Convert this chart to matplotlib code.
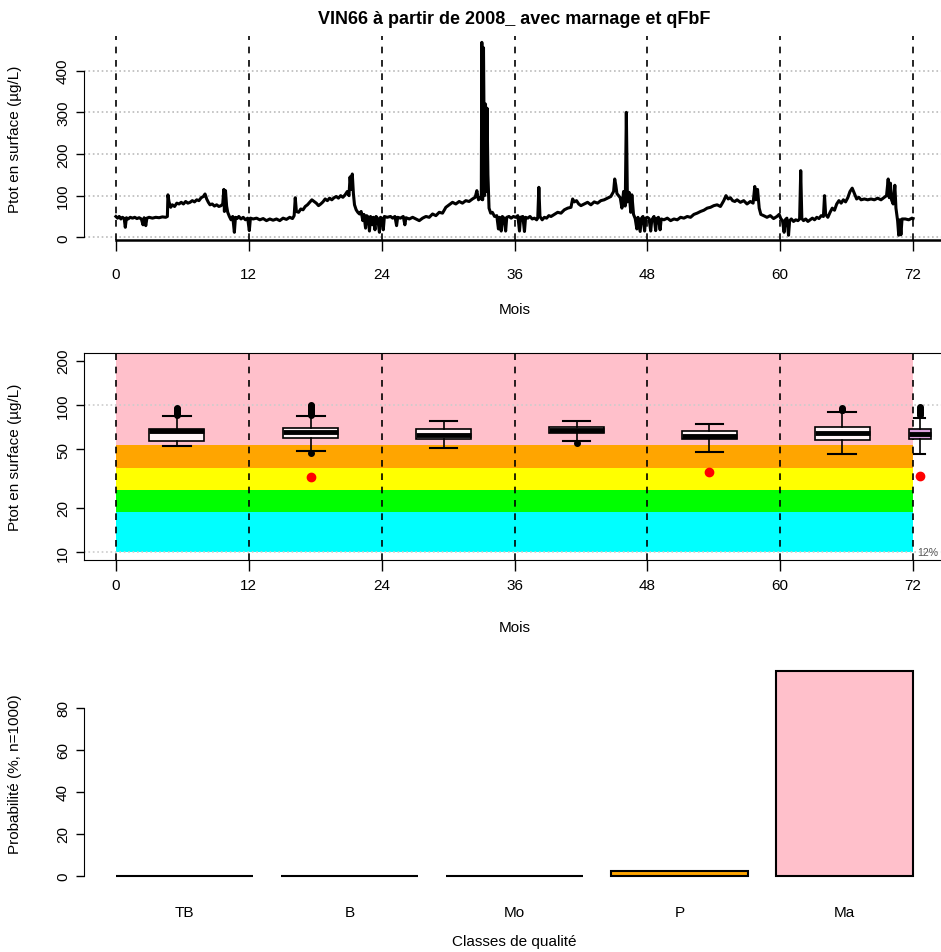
import numpy as np
import matplotlib.pyplot as plt
from matplotlib.ticker import NullLocator

plt.rcParams['font.family'] = ['Liberation Sans', 'DejaVu Sans']

# ---- panel 1 : series (mois, Ptot en surface)
mois = [0.0, 0.15, 0.3, 0.45, 0.6, 0.75, 0.85, 0.95, 1.1, 1.3, 1.5, 1.7, 1.9, 2.1, 2.3, 2.45, 2.55, 2.7, 2.8, 3.0,
        3.3, 3.6, 3.9, 4.2, 4.5, 4.65, 4.7, 4.8, 4.95, 5.1, 5.3, 5.5, 5.7, 5.9, 6.1, 6.3, 6.5, 6.7, 6.9, 7.1,
        7.3, 7.5, 7.7, 7.9, 8.05, 8.2, 8.35, 8.5, 8.7, 8.9, 9.1, 9.3, 9.5, 9.65, 9.75, 9.8, 9.9, 10.0, 10.1, 10.25,
        10.4, 10.55, 10.7, 10.8, 10.95, 11.1, 11.3, 11.5, 11.7, 11.9, 12.05, 12.15,
        12.4, 12.7, 13.0, 13.3, 13.6, 13.9, 14.2, 14.5, 14.8, 15.1, 15.4, 15.7, 15.95, 16.1, 16.2, 16.3, 16.5, 16.7,
        16.9, 17.1, 17.3, 17.5, 17.7, 17.9, 18.1, 18.3, 18.5, 18.7, 18.9, 19.1, 19.3, 19.5, 19.7, 19.9, 20.1, 20.3,
        20.5, 20.7, 20.9, 21.05, 21.15, 21.25, 21.35, 21.45, 21.55, 21.7, 21.85, 22.0, 22.15, 22.3, 22.4, 22.55,
        22.65, 22.8, 22.9, 23.0, 23.15, 23.25, 23.4, 23.5, 23.65, 23.8, 23.9, 24.05, 24.15, 24.25,
        24.5, 24.8, 25.0, 25.2, 25.35, 25.45, 25.7, 25.95, 26.1, 26.2, 26.5, 26.8, 27.1, 27.4, 27.7, 28.0, 28.3,
        28.6, 28.9, 29.2, 29.5, 29.8, 30.1, 30.4, 30.7, 31.0, 31.3, 31.6, 31.9, 32.2, 32.45, 32.6, 32.75, 32.9,
        33.0, 33.05, 33.12, 33.2, 33.3, 33.38, 33.45, 33.52, 33.6, 33.7, 33.85, 34.0, 34.2, 34.4, 34.55, 34.65,
        34.8, 34.9, 35.05, 35.2, 35.3, 35.5, 35.7, 35.9,
        36.1, 36.3, 36.45, 36.55, 36.75, 36.9, 37.0, 37.2, 37.4, 37.6, 37.8, 38.0, 38.1, 38.2, 38.3, 38.5, 38.7,
        38.9, 39.1, 39.3, 39.6, 39.9, 40.2, 40.5, 40.8, 41.1, 41.25, 41.4, 41.6, 41.8, 42.0, 42.3, 42.6, 42.9,
        43.2, 43.5, 43.8, 44.1, 44.4, 44.7, 44.95, 45.05, 45.15, 45.25, 45.4, 45.55, 45.7, 45.85, 46.0, 46.1,
        46.2, 46.35, 46.5, 46.6, 46.75, 46.9, 47.05, 47.15, 47.35, 47.45, 47.6, 47.75, 47.85, 48.0,
        48.15, 48.3, 48.4, 48.6, 48.75, 48.85, 49.0, 49.15, 49.25, 49.5, 49.8, 50.1, 50.4, 50.7, 51.0, 51.3,
        51.6, 51.9, 52.2, 52.5, 52.8, 53.1, 53.4, 53.7, 54.0, 54.3, 54.6, 54.9, 55.1, 55.3, 55.5, 55.7, 55.9,
        56.1, 56.4, 56.7, 57.0, 57.3, 57.55, 57.7, 57.8, 57.95, 58.1, 58.25, 58.5, 58.8, 59.1, 59.4, 59.7, 59.9,
        60.05, 60.2, 60.35, 60.45, 60.6, 60.75, 60.85, 61.0, 61.2, 61.4, 61.6, 61.75, 61.85, 61.95, 62.1, 62.3,
        62.5, 62.7, 62.9, 63.1, 63.3, 63.5, 63.7, 63.9, 64.0, 64.1, 64.3, 64.5, 64.7, 64.9, 65.1, 65.3, 65.5,
        65.7, 65.9, 66.1, 66.3, 66.5, 66.7, 66.9, 67.1, 67.3, 67.6, 67.9, 68.2, 68.5, 68.8, 69.1, 69.4, 69.6,
        69.75, 69.85, 69.95, 70.05, 70.2, 70.35, 70.45, 70.6, 70.7, 70.8, 70.9, 71.0, 71.3, 71.6, 71.9, 72.0]
ptot = [50, 46, 50, 44, 48, 45, 24, 47, 44, 48, 46, 48, 45, 47, 44, 30, 47, 28, 46, 48,
        46, 48, 47, 49, 48, 50, 102, 85, 72, 78, 74, 82, 80, 84, 80, 86, 82, 84, 88, 85,
        90, 88, 95, 98, 104, 92, 84, 78, 80, 75, 78, 74, 76, 80, 115, 62, 112, 75, 60, 50,
        42, 50, 12, 48, 45, 50, 44, 48, 42, 46, 16, 46,
        44, 46, 42, 45, 40, 44, 41, 44, 40, 46, 43, 48, 45, 52, 95, 62, 60, 68,
        66, 74, 78, 84, 90, 86, 82, 76, 80, 85, 92, 88, 94, 90, 95, 98, 94, 100,
        96, 102, 110, 100, 145, 115, 152, 105, 78, 66, 60, 56, 62, 40, 55, 22,
        52, 48, 15, 50, 30, 48, 18, 50, 45, 12, 48, 45, 18, 50,
        48, 50, 46, 50, 28, 48, 46, 50, 30, 47, 44, 48, 44, 40, 46, 50, 48,
        56, 52, 60, 58, 72, 78, 84, 80, 86, 82, 88, 86, 92, 96, 112, 90, 95,
        92, 468, 90, 455, 100, 320, 110, 310, 150, 70, 58, 60, 50, 52, 20, 48,
        15, 50, 46, 15, 48, 50, 46, 50,
        48, 52, 15, 48, 50, 14, 48, 46, 50, 44, 46, 42, 46, 120, 50, 42, 48,
        46, 52, 50, 55, 60, 58, 66, 70, 72, 92, 85, 88, 80, 76, 80, 84, 78,
        85, 82, 88, 90, 94, 98, 110, 140, 125, 105, 100, 95, 70, 110, 75, 300,
        85, 108, 60, 102, 55, 45, 20, 48, 14, 45, 50, 15, 46, 48,
        45, 15, 42, 50, 16, 45, 48, 18, 44, 42, 46, 40, 44, 42, 48, 46,
        50, 48, 55, 58, 62, 65, 70, 72, 76, 78, 74, 88, 100, 92, 95, 88, 86,
        90, 84, 88, 80, 86, 82, 122, 90, 115, 70, 55, 52, 48, 52, 45, 50, 55,
        45, 40, 12, 42, 46, 5, 40, 44, 38, 42, 40, 44, 160, 45, 40, 44,
        38, 42, 46, 42, 48, 45, 52, 50, 100, 55, 48, 60, 70, 65, 80, 88, 82,
        90, 85, 95, 110, 118, 105, 92, 96, 90, 92, 90, 92, 90, 94, 90, 96, 100,
        140, 95, 130, 90, 80, 125, 70, 40, 5, 42, 6, 44, 44, 42, 46, 45]

mois_ticks = [0, 12, 24, 36, 48, 60, 72]

# ---- panel 2 : boxplots per year, classes de qualite
box_pos = [5.5, 17.6, 29.6, 41.6, 53.6, 65.6, 72.6]
box_wid = [5, 5, 5, 5, 5, 5, 2]
box_q1 = [57, 60, 59, 64.5, 58.5, 57.5, 59]
box_med = [66.5, 65, 62.6, 67.5, 61.5, 64.5, 63.5]
box_q3 = [68.4, 69.6, 68.4, 71, 66.6, 71, 68.4]
box_lo = [52.7, 48.8, 51.3, 56.5, 47.8, 46.6, 46.6]
box_hi = [84, 84, 78, 77.6, 74, 89.6, 82]
box_out = [[86, 87, 88, 89, 90, 91, 92, 93, 94, 95],
           [86, 87, 88, 89, 90, 92, 94, 96, 98, 100, 47],
           [],
           [55],
           [],
           [92, 93, 95],
           [86, 88, 90, 92, 94, 96]]
box_fill = ['#fff5f7'] * 6 + ['plum']

obs_x = [17.6, 53.6, 72.6]
obs_y = [32.4, 34.8, 33.0]

class_lim = [10, 18.6, 26.3, 37.2, 53.1, 300]
class_col = ['#00ffff', '#00ff00', '#ffff00', '#ffa500', '#ffc0cb']

# ---- panel 3 : probabilities per class
classes = ['TB', 'B', 'Mo', 'P', 'Ma']
proba = [0, 0, 0, 2.2, 97.8]

W, H = 941, 953
fig = plt.figure(figsize=(W / 100, H / 100), dpi=100)


def px_axes(x0, y0, x1, y1):
    return fig.add_axes([x0 / W, 1 - y1 / H, (x1 - x0) / W, (y1 - y0) / H])


# ================= top panel
ax1 = px_axes(84, 36.7, 945, 241.3)
ax1.plot(mois, ptot, color='black', lw=2.2, zorder=3)
for m in mois_ticks:
    ax1.axvline(m, color='black', ls=(0, (4, 4)), lw=1.2, zorder=2)
for g in [0, 100, 200, 300, 400]:
    ax1.axhline(g, color='#bbbbbb', ls=':', lw=1.2, zorder=1)
ax1.set_xlim(-2.88, 74.88)
ax1.set_ylim(-7.2, 484)
ax1.set_xticks(mois_ticks)
ax1.set_yticks([0, 100, 200, 300, 400])
ax1.spines['top'].set_visible(False)
ax1.spines['right'].set_visible(False)
ax1.spines['left'].set_bounds(0, 400)
ax1.spines['bottom'].set_bounds(0, 74.88)
ax1.spines['bottom'].set_linewidth(1.8)
ax1.set_title('VIN66 à partir de 2008_ avec marnage et qFbF', fontsize=13, fontweight='bold', pad=9)

# ================= middle panel
ax2 = px_axes(84, 354, 945, 561)
ax2.set_yscale('log')
for i in range(len(class_col)):
    ax2.fill_between([0, 72], class_lim[i], class_lim[i + 1], color=class_col[i], lw=0, zorder=0)
for g in [10, 100]:
    ax2.axhline(g, color='#cccccc', ls=':', lw=1.2, zorder=1)
for m in mois_ticks:
    ax2.axvline(m, color='black', ls=(0, (4, 4)), lw=1.2, zorder=2)

stats = []
for i in range(len(box_pos)):
    stats.append(dict(med=box_med[i], q1=box_q1[i], q3=box_q3[i],
                      whislo=box_lo[i], whishi=box_hi[i], fliers=box_out[i]))
bp = ax2.bxp(stats, positions=box_pos, widths=box_wid, patch_artist=True, manage_ticks=False,
             boxprops=dict(edgecolor='black', lw=1.2),
             medianprops=dict(color='black', lw=3.5),
             whiskerprops=dict(color='black', lw=1.2),
             capprops=dict(color='black', lw=1.5),
             flierprops=dict(marker='o', markersize=4, markerfacecolor='black', markeredgecolor='black'),
             capwidths=[w / 2 for w in box_wid], zorder=3)
for patch, c in zip(bp['boxes'], box_fill):
    patch.set_facecolor(c)
ax2.plot(obs_x, obs_y, 'o', color='red', markersize=6, zorder=4)
ax2.text(72.4, 10, '12%', fontsize=7.5, color='#555555', ha='left', va='center')

ax2.set_xlim(-2.88, 74.88)
ax2.set_ylim(8.85, 225)
ax2.set_xticks(mois_ticks)
ax2.set_yticks([10, 20, 50, 100, 200])
ax2.set_yticklabels(['10', '20', '50', '100', '200'])
ax2.yaxis.set_minor_locator(NullLocator())
ax2.spines['right'].set_visible(False)

# ================= bottom panel
ax3 = px_axes(84, 663.5, 945, 884.9)
pos = [0.7 + 1.2 * i for i in range(len(classes))]
ax3.bar(pos, proba, width=1, color=class_col, edgecolor='black', lw=1.5)
ax3.set_xlim(-0.032, 6.232)
ax3.set_ylim(-3.9, 101.7)
ax3.set_yticks([0, 20, 40, 60, 80])
ax3.set_xticks(pos)
ax3.set_xticklabels(classes)
for s in ['top', 'right', 'bottom']:
    ax3.spines[s].set_visible(False)
ax3.spines['left'].set_bounds(0, 80)
ax3.tick_params(axis='x', length=0, pad=15, labelsize=11)

# ---- common axis styling
for ax, xlab, ylab in [(ax1, 'Mois', 'Ptot en surface (µg/L)'),
                       (ax2, 'Mois', 'Ptot en surface (µg/L)'),
                       (ax3, 'Classes de qualité', 'Probabilité (%, n=1000)')]:
    ax.tick_params(axis='y', direction='out', length=6, width=1, labelsize=11, pad=4)
    for lab in ax.get_yticklabels():
        lab.set_rotation(90)
        lab.set_va('center')
    ax.set_xlabel(xlab, fontsize=11)
    ax.set_ylabel(ylab, fontsize=11)
    ax.yaxis.set_label_coords(-62 / 861, 0.5)

ax1.tick_params(axis='x', direction='out', length=8, width=1, labelsize=11, pad=11)
ax2.tick_params(axis='x', direction='out', length=8, width=1, labelsize=11, pad=5)

ax1.xaxis.set_label_coords(0.5, -(310 - 241.3) / 204.6)
ax2.xaxis.set_label_coords(0.5, -(628 - 561) / 207)
ax3.xaxis.set_label_coords(0.5, -(942 - 884.9) / 221.4)
for ax in [ax1, ax2, ax3]:
    ax.xaxis.label.set_va('center')

fig.savefig('out.png', dpi=100)
